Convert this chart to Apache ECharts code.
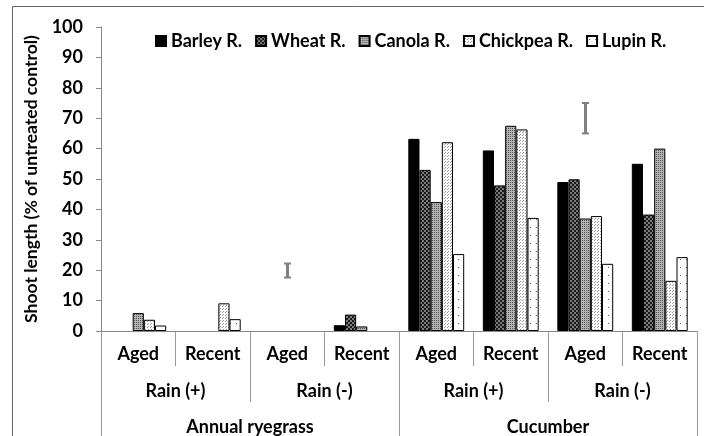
<!DOCTYPE html>
<html>
<head>
<meta charset="utf-8">
<script src="https://cdn.jsdelivr.net/npm/echarts@6/dist/echarts.min.js"></script>
<style>
  html, body { margin: 0; padding: 0; background: #fff; }
  #chart { width: 704px; height: 436px; }
</style>
</head>
<body>
<div id="chart"></div>
<script>
// category levels (bottom axis)
const treatments = ['Aged', 'Recent', 'Aged', 'Recent', 'Aged', 'Recent', 'Aged', 'Recent']
const rainLevels = ['Rain (+)', 'Rain (-)', 'Rain (+)', 'Rain (-)']
const species = ['Annual ryegrass', 'Cucumber']

// residue series, % of untreated control
const seriesNames = ['Barley R.', 'Wheat R.', 'Canola R.', 'Chickpea R.', 'Lupin R.']
const barley = [0, 0, 0, 1.9, 63.2, 59.4, 49.0, 55.0]
const wheat = [0, 0, 0, 5.4, 53.0, 47.9, 49.9, 38.3]
const canola = [5.9, 0, 0, 1.5, 42.4, 67.5, 37.0, 60.0]
const chickpea = [3.7, 9.1, 0, 0, 62.1, 66.3, 37.8, 16.5]
const lupin = [1.8, 3.9, 0, 0, 25.3, 37.2, 22.1, 24.3]

// error bars (LSD)
const errIndex = [2, 6]
const errLow = [17.6, 65]
const errHigh = [22.2, 75]

const yTicks = [0, 100, 10] // min, max, interval

// small fill patterns like the excel ones
function makePattern (w, h, bg, fg, dots, size) {
    const c = document.createElement('canvas')
    c.width = w
    c.height = h
    const ctx = c.getContext('2d')
    ctx.fillStyle = bg
    ctx.fillRect(0, 0, w, h)
    ctx.fillStyle = fg
    dots.forEach(d => ctx.fillRect(d[0], d[1], size || 1, size || 1))
    return { image: c, repeat: 'repeat' }
}

const fills = [
    '#000',
    makePattern(4, 4, '#7a7a7a', '#1a1a1a', [[0, 0], [2, 2]], 2),
    makePattern(4, 4, '#b4b4b4', '#555', [[0, 0], [2, 0], [0, 2], [2, 2]]),
    makePattern(3, 3, '#fff', '#999', [[0, 0], [1, 2]]),
    makePattern(6, 8, '#fff', '#555', [[2, 3]])
]
const values = [barley, wheat, canola, chickpea, lupin]

const font = 'Lato'
const chart = echarts.init(document.getElementById('chart'))

// zero bars are simply not drawn in the original
const barSeries = seriesNames.map((name, i) => ({
    name: name,
    type: 'bar',
    data: values[i].map(v => (v === 0 ? '-' : v)),
    barGap: 0,
    barCategoryGap: '25%',
    itemStyle: {
        color: fills[i],
        borderColor: '#000',
        borderWidth: 1
    }
}))

const errSeries = {
    type: 'custom',
    silent: true,
    data: errIndex.map((c, i) => [c, errLow[i], errHigh[i]]),
    renderItem (params, api) {
        const lo = api.coord([api.value(0), api.value(1)])
        const hi = api.coord([api.value(0), api.value(2)])
        const x = Math.round(lo[0]) + 0.5
        const st = { stroke: '#808080', lineWidth: 2 }
        return {
            type: 'group',
            children: [
                { type: 'line', shape: { x1: x, y1: lo[1], x2: x, y2: hi[1] }, style: { stroke: '#808080', lineWidth: 3 } },
                { type: 'line', shape: { x1: x - 3.5, y1: lo[1], x2: x + 3.5, y2: lo[1] }, style: st },
                { type: 'line', shape: { x1: x - 3.5, y1: hi[1], x2: x + 3.5, y2: hi[1] }, style: st }
            ]
        }
    }
}

const labelStyle = { color: '#000', fontFamily: font, fontWeight: 'bold', fontSize: 18 }

chart.setOption({
    animation: false,
    graphic: [{
        type: 'polyline',
        shape: { points: [[12.5, 436], [12.5, 6.5], [704, 6.5]] },
        style: { stroke: '#666', lineWidth: 1, fill: null }
    }],
    legend: {
        data: seriesNames,
        left: 150,
        top: 27,
        itemWidth: 10,
        itemHeight: 10,
        itemGap: 13,
        icon: 'rect',
        textStyle: { color: '#000', fontFamily: font, fontWeight: 'bold', fontSize: 18 }
    },
    grid: { left: 101, right: 7, top: 27, bottom: 105, containLabel: false },
    xAxis: [
        {
            type: 'category',
            data: treatments,
            axisLine: { lineStyle: { color: '#888' } },
            axisTick: { show: true, interval: 0, length: 35, lineStyle: { color: '#999' } },
            axisLabel: Object.assign({ interval: 0, margin: 14 }, labelStyle)
        },
        {
            type: 'category',
            position: 'bottom',
            data: rainLevels,
            axisLine: { show: false },
            axisTick: { show: true, interval: 0, length: 71, lineStyle: { color: '#999' } },
            axisLabel: Object.assign({ interval: 0, margin: 51 }, labelStyle)
        },
        {
            type: 'category',
            position: 'bottom',
            data: species,
            axisLine: { show: false },
            axisTick: { show: true, interval: 0, length: 105, lineStyle: { color: '#999' } },
            axisLabel: Object.assign({ interval: 0, margin: 87 }, labelStyle)
        }
    ],
    yAxis: {
        type: 'value',
        min: yTicks[0],
        max: yTicks[1],
        interval: yTicks[2],
        name: 'Shoot length (% of untreated control)',
        nameLocation: 'middle',
        nameGap: 51,
        nameTextStyle: { color: '#000', fontFamily: font, fontWeight: 'bold', fontSize: 17.5 },
        axisLine: { show: true, lineStyle: { color: '#888' } },
        axisTick: { show: true, length: 5, lineStyle: { color: '#888' } },
        splitLine: { show: false },
        axisLabel: Object.assign({ margin: 18 }, labelStyle)
    },
    series: barSeries.concat([errSeries])
})
</script>
</body>
</html>
